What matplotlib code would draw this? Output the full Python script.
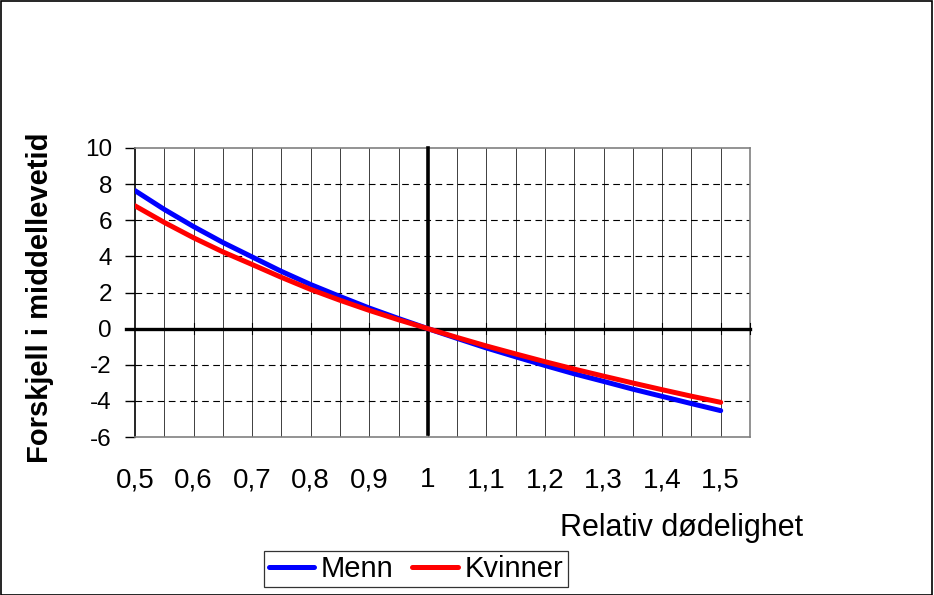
import numpy as np
import matplotlib.pyplot as plt
from matplotlib.patches import Rectangle

plt.rcParams['font.family'] = ['Liberation Sans', 'DejaVu Sans']
plt.rcParams['axes.unicode_minus'] = False

rel = [0.5, 0.55, 0.6, 0.65, 0.7, 0.75, 0.8, 0.85, 0.9, 0.95, 1.0,
       1.05, 1.1, 1.15, 1.2, 1.25, 1.3, 1.35, 1.4, 1.45, 1.5]
menn = [7.64, 6.6, 5.65, 4.77, 3.97, 3.17, 2.44, 1.78, 1.14, 0.56, 0.0,
        -0.54, -1.07, -1.56, -2.04, -2.5, -2.92, -3.35, -3.75, -4.15, -4.54]
kvinner = [6.8, 5.88, 5.03, 4.25, 3.55, 2.84, 2.17, 1.57, 1.01, 0.49, 0.0,
           -0.49, -0.96, -1.4, -1.83, -2.24, -2.63, -3.01, -3.38, -3.74, -4.08]
xticks = [0.5, 0.6, 0.7, 0.8, 0.9, 1.0, 1.1, 1.2, 1.3, 1.4, 1.5]
xlabels = ['0,5', '0,6', '0,7', '0,8', '0,9', '1', '1,1', '1,2', '1,3', '1,4', '1,5']
yticks = [-6, -4, -2, 0, 2, 4, 6, 8, 10]

fig = plt.figure(figsize=(9.34, 5.95), dpi=100)
fig.patches.append(Rectangle((0.001, 0.0), 0.997, 0.998, transform=fig.transFigure,
                             fill=False, edgecolor='black', linewidth=1.2))
ax = fig.add_axes([0.1445, 0.2655, 0.6585, 0.4858])

# grid
for gx in np.arange(0.55, 1.55, 0.05):
    ax.axvline(gx, color='#202020', linewidth=0.6, zorder=1)
for gy in [-4, -2, 2, 4, 6, 8]:
    ax.axhline(gy, color='black', linewidth=0.8, linestyle=(0, (6, 4)), zorder=1)

ax.plot([0.485, 1.55], [0, 0], color='black', linewidth=2.4, zorder=3, clip_on=False)
ax.plot([1.0, 1.0], [-5.85, 10], color='black', linewidth=2.6, zorder=3, clip_on=False)
for t in xticks[1:] + [1.55]:
    ax.plot([t, t], [-0.3, 0.3], color='black', linewidth=0.8, zorder=3, clip_on=False)

ax.plot(rel, menn, color='#0000ff', linewidth=3.6, label='Menn', zorder=4, solid_capstyle='round')
ax.plot(rel, kvinner, color='#ff0000', linewidth=3.6, label='Kvinner', zorder=5, solid_capstyle='round')

ax.set_xlim(0.5, 1.55)
ax.set_ylim(-6, 10)
ax.set_yticks(yticks)
ax.set_xticks([])
for t, lab in zip(xticks, xlabels):
    ax.text(t, -8.4, lab, ha='center', va='center', fontsize=20)

ax.tick_params(axis='y', direction='out', length=7.2, width=1, labelsize=17.5, pad=9.4)
for s in ['top', 'right', 'bottom']:
    ax.spines[s].set_color('#808080')
    ax.spines[s].set_linewidth(1.2)
ax.spines['left'].set_color('black')
ax.spines['left'].set_linewidth(1.2)

fig.text(0.043, 0.50, 'Forskjell i middellevetid', rotation=90, ha='center', va='center',
         fontsize=21, fontweight='bold')
fig.text(0.5996, 0.0992, 'Relativ dødelighet', ha='left', va='baseline', fontsize=22)

leg = fig.legend(loc='center', bbox_to_anchor=(0.4454, 0.0437), ncol=2, fontsize=21,
                 frameon=True, fancybox=False, edgecolor='black', handlelength=1.55,
                 handletextpad=0.24, columnspacing=0.65, borderpad=0.15, borderaxespad=0)
leg.get_frame().set_linewidth(0.9)

fig.savefig('out.png', dpi=100)
